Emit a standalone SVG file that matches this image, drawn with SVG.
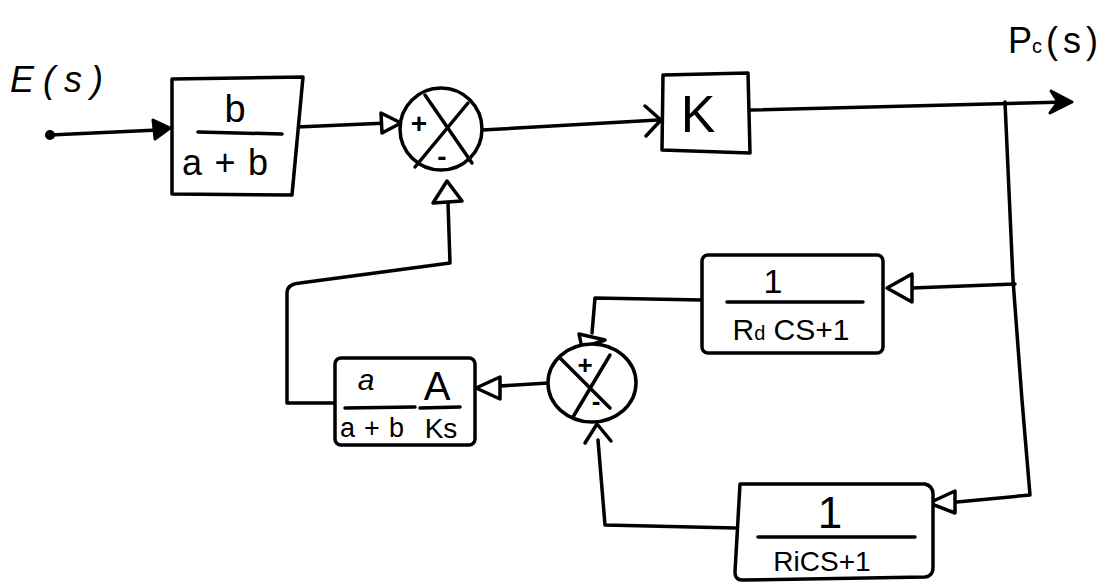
<svg xmlns="http://www.w3.org/2000/svg" width="1116" height="582" viewBox="0 0 1116 582">
<style>
.ln{fill:none;stroke:#000;stroke-width:3.5;stroke-linecap:round;stroke-linejoin:round}
.ah{fill:#fff;stroke:#000;stroke-width:3.5;stroke-linejoin:round}
.af{fill:#000;stroke:#000;stroke-width:3;stroke-linejoin:round}
.bx{fill:#fff;stroke:#000;stroke-width:3.5;stroke-linejoin:round}
.t{font-family:"Liberation Sans","DejaVu Sans",sans-serif;fill:#000;text-anchor:middle}
.ts{font-family:"Liberation Sans","DejaVu Sans",sans-serif;fill:#000}
.ti{font-family:"Liberation Sans","DejaVu Sans",sans-serif;fill:#000;font-style:italic}
</style>
<rect width="1116" height="582" fill="#fff"/>
<g id="connectors">
  <circle cx="50" cy="135" r="5" fill="#000"/>
  <path class="ln" d="M50,135 L158,130"/>
  <polygon class="af" points="170,128 153,120 155,139"/>
  <path class="ln" d="M297,127 L388,123"/>
  <polygon class="ah" points="401,123 381,113 382,133"/>
  <path class="ln" d="M482,130 L658,120"/>
  <path class="ln" d="M645,106 L661,120 L646,136"/>
  <path class="ln" d="M750,110 L1066,102"/>
  <path class="af" d="M1051,91 L1072,102 L1050,113 L1058,102 Z"/>
  <path class="ln" d="M1005,102 L1013,280 L1022,400 L1030,495 L957,502"/>
  <path class="ln" d="M1015,284 L912,288"/>
  <polygon class="ah" points="887,288 912,274 912,302"/>
  <polygon class="ah" points="929,503 955,491 955,513"/>
  <path class="ln" d="M702,300 L595,298 L592,333"/>
  <polygon class="ah" points="579,334 605,340 582,348"/>
  <path class="ln" d="M735,528 L605,525 L598,440"/>
  <path class="ln" d="M585,443 L597,424 L611,441"/>
  <path class="ln" d="M548,383 L500,386"/>
  <polygon class="ah" points="476,388 500,377 500,399"/>
  <path class="ln" d="M335,403 L287,403 L287,293 Q287,284 300,283 L450,263 L448,203"/>
  <polygon class="ah" points="447,181 433,203 462,201"/>
</g>
<g id="label-E">
  <text class="ti" x="10" y="92" font-size="36" textLength="93" lengthAdjust="spacing">E(s)</text>
</g>
<g id="label-Pc">
  <text class="ts" x="1008" y="53" font-size="36">P<tspan font-size="20">c</tspan><tspan dx="4" letter-spacing="5">(s)</tspan></text>
</g>
<g id="block-b">
  <path class="bx" d="M172,79 L303,77 L292,195 L172,194 Z"/>
  <text class="t" x="235" y="122" font-size="38">b</text>
  <path class="ln" d="M198,132 L282,134"/>
  <text class="t" x="225" y="175" font-size="36" textLength="86" lengthAdjust="spacing">a+b</text>
</g>
<g id="sum1">
  <circle class="bx" cx="441" cy="129" r="41"/>
  <path class="ln" d="M425,95 L472,163 M468,103 L415,167"/>
  <text class="t" x="419" y="133" font-size="28" font-weight="bold">+</text>
  <text class="t" x="442" y="166" font-size="28" font-weight="bold">-</text>
</g>
<g id="block-K">
  <path class="bx" d="M663,75 L748,73 L750,153 L662,150 Z"/>
  <text class="t" x="698" y="132" font-size="52">K</text>
</g>
<g id="block-Rd">
  <rect class="bx" x="702" y="255" width="181" height="98" rx="6"/>
  <text class="t" x="773" y="293" font-size="34">1</text>
  <path class="ln" d="M727,302 L863,302"/>
  <text class="t" x="791" y="340" font-size="30">R<tspan font-size="20">d</tspan> CS+1</text>
</g>
<g id="sum2">
  <ellipse class="bx" cx="592" cy="383" rx="44" ry="39"/>
  <path class="ln" d="M560,358 L610,408 M610,355 L573,417"/>
  <text class="t" x="585" y="374" font-size="26" font-weight="bold">+</text>
  <text class="t" x="596" y="410" font-size="26" font-weight="bold">-</text>
</g>
<g id="block-A">
  <rect class="bx" x="335" y="358" width="140" height="87" rx="6"/>
  <text class="ti" x="366" y="390" font-size="30" text-anchor="middle">a</text>
  <text class="t" x="437" y="400" font-size="40">A</text>
  <path class="ln" d="M345,408 L415,407 M420,408 L460,407"/>
  <text class="t" x="372" y="437" font-size="27" textLength="64" lengthAdjust="spacing">a+b</text>
  <text class="t" x="441" y="438" font-size="28">Ks</text>
</g>
<g id="block-Ri">
  <path class="bx" d="M740,484 L925,484 Q933,486 933,494 L933,568 Q933,576 925,577 L742,580 Q735,580 735,572 Z"/>
  <text class="t" x="830" y="528" font-size="44">1</text>
  <path class="ln" d="M758,537 L915,537"/>
  <text class="t" x="822" y="571" font-size="28">RiCS+1</text>
</g>
</svg>
